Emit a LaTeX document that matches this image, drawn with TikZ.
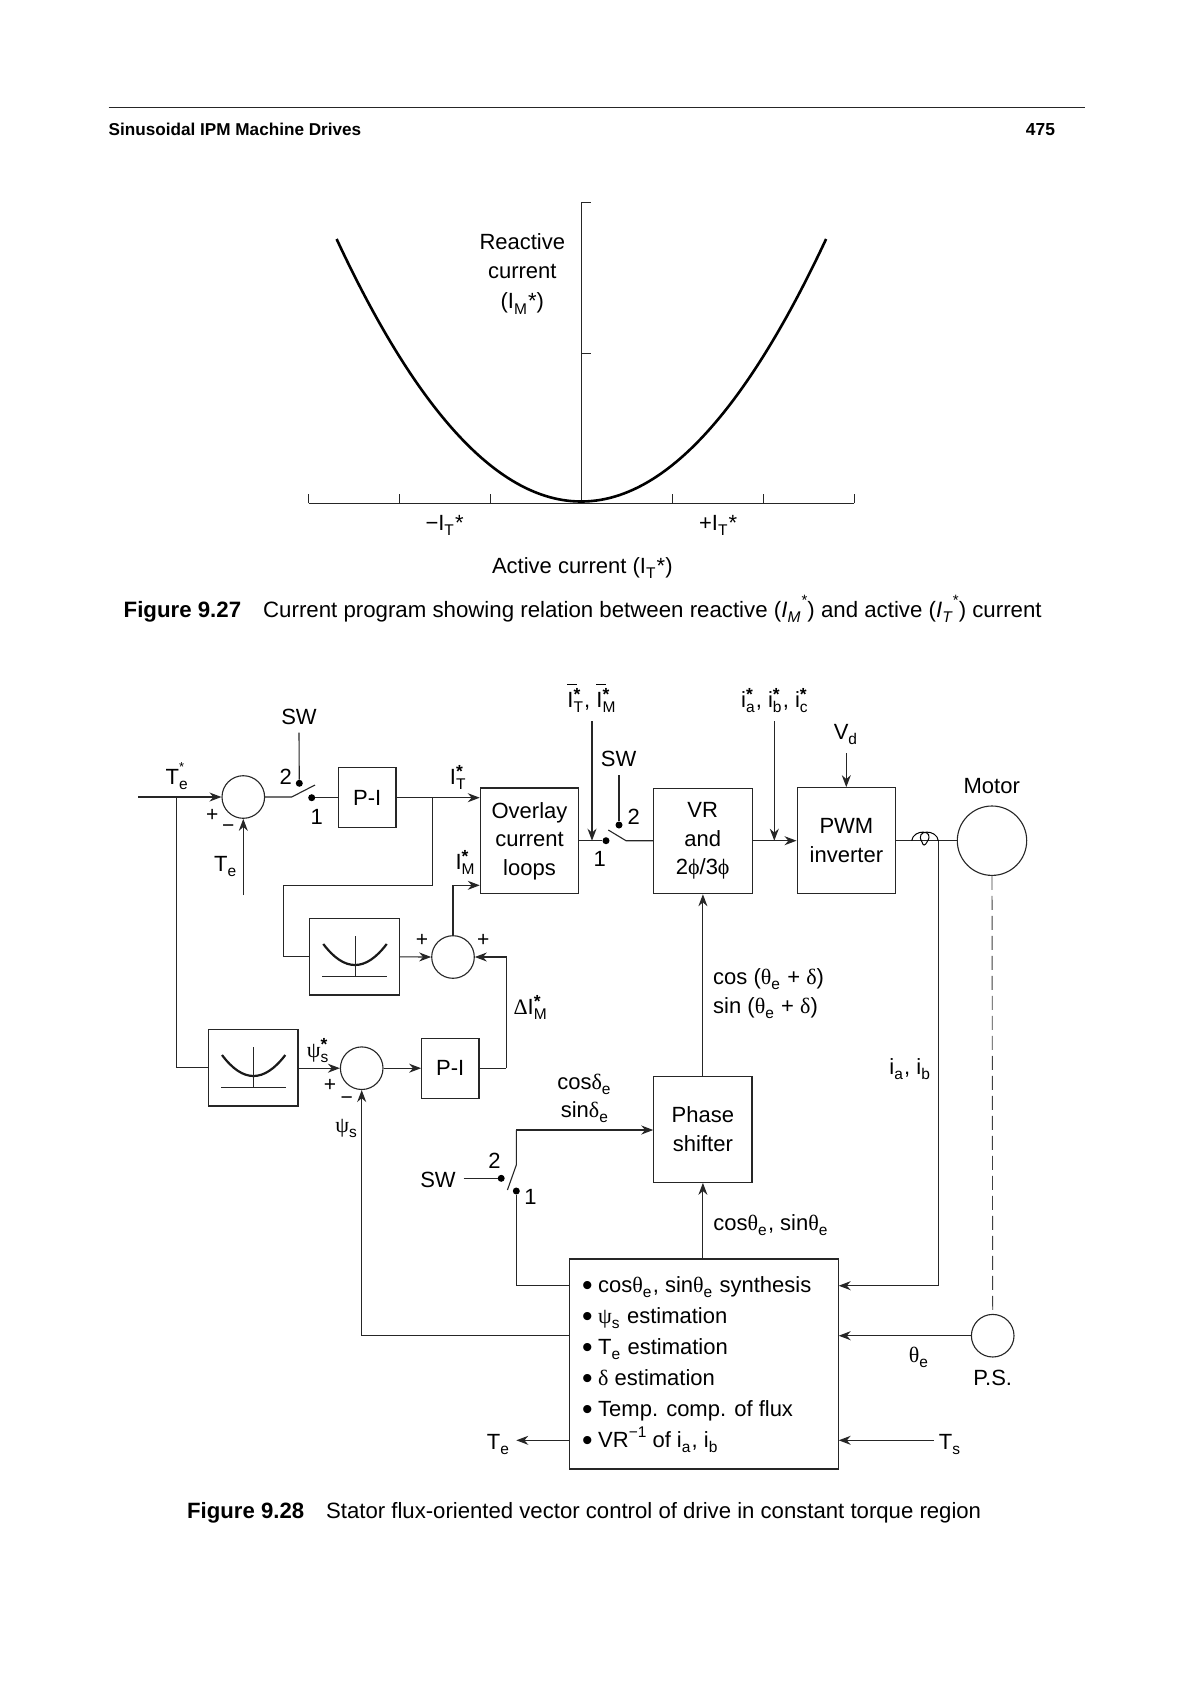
\documentclass[tikz,border=0pt]{standalone}
\usepackage{fontspec}
\setmainfont{Liberation Sans}
\newfontfamily\gkf{Liberation Serif}
\usetikzlibrary{arrows.meta,calc}
\newcommand{\gk}[1]{{\gkf #1}}
\newcommand{\dn}[1]{\raisebox{-.26em}{\fontsize{15.5}{15.5}\selectfont #1}\kern1.2pt\relax}
\newcommand{\upp}[1]{\raisebox{.42em}{\fontsize{15.5}{15.5}\selectfont #1}}
\newcommand{\sts}[1]{\rlap{\raisebox{.3em}{\fontsize{17.5}{17.5}\bfseries\selectfont *}}\dn{#1}}
\newcommand{\ovI}{\rlap{\rule[1.02em]{.42em}{.8pt}}I}
\newcommand{\bul}{\makebox[16pt][l]{\raisebox{-3pt}{\fontsize{30}{30}\selectfont •}}}
\tikzset{
  x=1pt,y=-1pt,
  ln/.style={line width=1.1pt,draw=black!85},
  arr/.style={ln,-{Stealth[length=12pt,width=9pt]}},
  blockbox/.style={draw=black!85,line width=1.1pt,inner sep=0pt,align=center,
     font=\fontsize{22}{28.5}\selectfont},
  sumc/.style={circle,draw=black!85,line width=1.1pt,inner sep=0pt,minimum size=42.6pt},
  contact/.style={circle,fill=black,inner sep=0pt,minimum size=7pt},
  lab/.style={inner sep=0pt,font=\fontsize{22}{26}\selectfont,text height=16pt,text depth=0pt},
  smalltxt/.style={inner sep=0pt,font=\fontsize{21}{24}\selectfont,text height=15pt,text depth=0pt},
  captxt/.style={inner sep=0pt,font=\fontsize{22.25}{26}\selectfont,text height=16pt,text depth=0pt,anchor=west},
  linetxt/.style={lab,anchor=west},
  curvethick/.style={line width=2.2pt,draw=black!90},
  thinline/.style={line width=1pt,draw=black!85},
}
\begin{document}
\begin{tikzpicture}
\useasboundingbox[fill=white] (0,0) rectangle (1190,1684);
% ---------- header
\coordinate (rl) at (108.5,107.4); \coordinate (rr) at (1084.7,107.4);
\draw[thinline] (rl) -- (rr);
\node[inner sep=0pt,anchor=west,font=\fontsize{17.15}{20}\bfseries\selectfont,text height=12.5pt,text depth=0pt] (hdl) at (108.5,129) {Sinusoidal IPM Machine Drives};
\node[inner sep=0pt,anchor=west,font=\fontsize{17.4}{20}\bfseries\selectfont,text height=12.5pt,text depth=0pt] (hdr) at (1025.7,129) {475};
% ---------- fig 9.27
\coordinate (o) at (581.2,503.3);
\coordinate (ytop) at (581.2,202.7);
\coordinate (xl) at (308.7,503.3); \coordinate (xr) at (854,503.3);
\draw[thinline] (o) -- (ytop) -- ++(10,0);
\draw[thinline] (581.2,353.3) -- ++(10,0);
\draw[thinline] (xl) -- (xr);
\foreach \tx in {308.7,399.4,490.5,672.3,763.3,854}
  \draw[thinline] (\tx,503.3) -- (\tx,494);
\draw[line width=2.6pt,draw=black] (336.6,239) .. controls (418.1,414) and (499.7,501.5) .. (581.2,501.5)
   .. controls (662.7,501.5) and (744.3,414) .. (826.1,239);
\node[lab] (rc1) at (522.3,241.7) {Reactive};
\node[lab] (rc2) at (522.3,270.5) {current};
\node[lab] (rc3) at (522.3,300.5) {(I\dn{M}*)};
\node[lab] (mt) at (444.6,522) {−I\dn{T}*};
\node[lab] (pt) at (718.2,522) {+I\dn{T}*};
\node[lab] (ac) at (582.3,565) {Active current (I\dn{T}*)};
\node[captxt] (cap27) at (123.5,609) {\textbf{Figure 9.27}\hspace{22pt}Current program showing relation between reactive (\textit{I\dn{M}}\raisebox{.5em}{\fontsize{15}{15}\selectfont *}) and active (\textit{I\dn{T}}\raisebox{.5em}{\fontsize{15}{15}\selectfont *}) current};
% ---------- blocks
\node[blockbox,minimum width=57.3pt,minimum height=60pt] (pi1) at (367.3,797.7) {P-I};
\node[blockbox,minimum width=98.4pt,minimum height=105.7pt] (ov) at (529.5,840.85) {Overlay\\current\\loops};
\node[blockbox,minimum width=98.7pt,minimum height=105.4pt] (vr) at (702.7,841) {VR\\and\\2\gk{ϕ}/3\gk{ϕ}};
\node[blockbox,minimum width=98.7pt,minimum height=106pt] (pwm) at (846.4,840.7) {PWM\\inverter};
\node[blockbox,minimum width=98.2pt,minimum height=106.3pt] (ph) at (702.9,1129.2) {Phase\\shifter};
\node[blockbox,minimum width=57.3pt,minimum height=59.7pt] (pi2) at (450.3,1068.2) {P-I};
\node[blockbox,minimum width=90pt,minimum height=76.3pt] (cv1) at (354.3,956.85) {};
\node[blockbox,minimum width=89.3pt,minimum height=76.7pt] (cv2) at (253.3,1067.65) {};
\node[blockbox,minimum width=268.3pt,minimum height=210pt] (est) at (704,1364) {};
\node[sumc] (c1) at (243.3,797) {};
\node[sumc] (c2) at (453,957) {};
\node[sumc] (c3) at (361.7,1068.2) {};
\node[sumc,minimum size=69.4pt] (mot) at (992,840.7) {};
\node[sumc] (ps) at (992.7,1335.7) {};
% parabola icons
\draw[curvethick] (323.3,944) .. controls (333.9,958) and (344.4,965) .. (355,965) .. controls (365.6,965) and (376.1,958) .. (386.7,944);
\draw[thinline] (355,936) -- (355,976); \draw[thinline] (322.3,976) -- (386.7,976);
\draw[curvethick] (222,1055) .. controls (232.5,1069) and (243,1076) .. (253.5,1076) .. controls (264,1076) and (274.7,1069) .. (285.3,1055);
\draw[thinline] (253.3,1047.3) -- (253.3,1087.3); \draw[thinline] (221,1087.3) -- (285.7,1087.3);
% ---------- switches
\node[contact] (s1t) at (299.3,783.3) {};
\node[contact] (s1b) at (311.7,797.7) {};
\coordinate (s1p) at (291.7,797); \coordinate (s1e) at (315,785);
\draw[ln] (c1.east) -- (s1p) -- (s1e);
\draw[ln] (s1b) -- (pi1.west |- s1b);
\coordinate (s1sw) at (299,732.7); \draw[ln] (s1sw) -- (s1t);
\node[contact] (s2a) at (606,840.7) {};
\node[contact] (s2b) at (619,825) {};
\coordinate (s2p) at (626,840.7); \coordinate (s2e) at (608.3,830);
\draw[ln] (ov.east |- s2a) -- (s2a);
\draw[ln] (s2e) -- (s2p) -- (vr.west |- s2p);
\coordinate (s2sw) at (619,775); \draw[ln] (s2sw) -- (s2b);
\coordinate (itop) at (592,721); \coordinate (jit) at (592,840.7);
\draw[arr] (itop) -- (jit);
\node[contact] (s3a) at (516.3,1191) {};
\node[contact] (s3b) at (501.2,1178.3) {};
\coordinate (s3e) at (507.4,1190); \coordinate (s3p) at (516.3,1165); \coordinate (s3t) at (516.3,1130);
\coordinate (swl) at (463.7,1178.3);
\draw[ln] (swl) -- (s3b);
\draw[ln] (s3e) -- (s3p) -- (s3t);
\draw[arr] (s3t) -- (ph.west |- s3t);
\coordinate (l1) at (516.3,1285.7);
\draw[ln] (est.west |- l1) -- (l1) -- (s3a);
% ---------- connectors
\coordinate (tein) at (138,797);
\coordinate (j1) at (176.7,797);
\draw[arr] (tein) -- (c1.west);
\draw[ln] (j1) |- (cv2.west);
\coordinate (tef) at (243.3,895);
\draw[arr] (tef) -- (c1.south);
\coordinate (j2) at (432.3,797.7); \coordinate (k1) at (432.3,885.3); \coordinate (k2) at (283.3,885.3);
\draw[arr] (pi1.east) -- (pi1.east -| ov.west);
\draw[ln] (j2) -- (k1) -- (k2) |- (cv1.west);
\draw[arr] (cv1.east) -- (c2.west);
\coordinate (k3) at (453,885.3);
\draw[arr] (c2.north) -- (k3) -- (ov.west |- k3);
\coordinate (k4) at (506.3,1068.2); \coordinate (k5) at (506.3,957);
\draw[ln] (pi2.east) -- (k4);
\draw[arr] (k4) -- (k5) -- (c2.east);
\draw[arr] (cv2.east |- c3) -- (c3.west);
\draw[arr] (c3.east) -- (pi2.west);
\coordinate (k6) at (361.7,1335.7);
\draw[arr] (est.west |- k6) -- (k6) -- (c3.south);
\coordinate (iabc) at (774.3,721); \coordinate (jabc) at (774.3,840.7);
\draw[arr] (vr.east |- pwm.west) -- (pwm.west);
\draw[arr] (iabc) -- (jabc);
\coordinate (vd) at (846.3,753.3);
\draw[arr] (vd) -- (vd |- pwm.north);
\draw[ln] (pwm.east) -- (mot.west);
\draw[arr] (ph.north |- est.north) -- (ph.south);
\draw[arr] (ph.north) -- (ph.north |- vr.south);
\coordinate (ia) at (938.7,840.7); \coordinate (ib) at (938.7,1285.7);
\draw[arr] (ia) -- (ib) -- (est.east |- ib);
\draw[arr] (ps.west) -- (est.east |- ps);
\coordinate (ts) at (933.8,1440.3);
\draw[arr] (ts) -- (est.east |- ts);
\coordinate (teo) at (516.3,1440.3);
\draw[arr] (est.west |- teo) -- (teo);
\draw[line width=.9pt,draw=black!75,dash pattern=on 14pt off 6pt] (mot.south) -- (ps.north);
% current sensor
\draw[line width=1pt,draw=black] (911.7,840.7) .. controls (913,829) and (936,829) .. (927,842) .. controls (925,846) and (923,846) .. (922,842) .. controls (914,829) and (937,829) .. (938.3,840.7);
% ---------- labels
\node[lab] (lte) at (177.3,776) {T\rlap{\raisebox{.55em}{\fontsize{13}{13}\selectfont *}}\dn{e}};
\node[smalltxt] (pl1) at (212.3,814) {+};
\node[smalltxt] (mn1) at (228.3,825) {−};
\node[lab] (lte2) at (225.7,863) {T\dn{e}};
\node[lab] (lsw1) at (299,716.7) {SW};
\node[lab] (n2a) at (285.7,776) {2};
\node[lab] (n1a) at (316.7,816) {1};
\node[lab] (lit) at (458.3,776) {I\sts{T}};
\node[lab] (lim) at (465.7,861) {I\sts{M}};
\node[smalltxt] (pl2) at (422,939) {+};
\node[smalltxt] (pl3) at (483.3,939) {+};
\node[lab] (ldi) at (530.7,1006) {\gk{Δ}I\sts{M}};
\node[lab] (lps) at (318.3,1049) {\gk{ψ}\sts{s}};
\node[smalltxt] (pl4) at (330,1084) {+};
\node[smalltxt] (mn3) at (346.7,1097) {−};
\node[lab] (lps2) at (346.7,1124) {\gk{ψ}\dn{s}};
\node[lab] (lbar) at (592,699) {\ovI\sts{T}, \ovI\sts{M}};
\node[lab] (labc) at (775,699) {i\sts{a}, i\sts{b}, i\sts{c}};
\node[lab] (lvd) at (846,731) {V\dn{d}};
\node[lab] (lsw2) at (618.7,758.3) {SW};
\node[lab] (n2b) at (633.7,816.7) {2};
\node[lab] (n1b) at (599.7,858.3) {1};
\node[lab] (lmot) at (991.7,785) {Motor};
\node[linetxt] (lcos) at (713,976) {cos (\gk{θ}\dn{e} + \gk{δ})};
\node[linetxt] (lsin) at (713,1005) {sin (\gk{θ}\dn{e} + \gk{δ})};
\node[lab] (lia) at (910.3,1066) {i\dn{a}, i\dn{b}};
\node[lab] (lcd) at (584.6,1081) {cos\gk{δ}\dn{e}};
\node[lab] (lsd) at (585,1109) {sin\gk{δ}\dn{e}};
\node[lab] (lsw3) at (438,1179.3) {SW};
\node[lab] (n2c) at (494.5,1160) {2};
\node[lab] (n1c) at (530.6,1196.7) {1};
\node[linetxt] (lct) at (713.2,1222) {cos\gk{θ}\dn{e}, sin\gk{θ}\dn{e}};
\node[linetxt] (e1) at (582,1284) {\bul cos\gk{θ}\dn{e}, sin\gk{θ}\dn{e} synthesis};
\node[linetxt] (e2) at (582,1315) {\bul \gk{ψ}\dn{s} estimation};
\node[linetxt] (e3) at (582,1346) {\bul T\dn{e} estimation};
\node[linetxt] (e4) at (582,1377) {\bul \gk{δ} estimation};
\node[linetxt] (e5) at (582,1408) {\bul Temp. comp. of flux};
\node[linetxt] (e6) at (582,1439) {\bul VR\upp{−1} of i\dn{a}, i\dn{b}};
\node[lab] (lps3) at (992.7,1377) {P.S.};
\node[lab] (lth) at (919,1354) {\gk{θ}\dn{e}};
\node[lab] (lts) at (950,1441) {T\dn{s}};
\node[lab] (lte3) at (498.5,1441) {T\dn{e}};
\node[captxt,font=\fontsize{22.15}{26}\selectfont] (cap28) at (187,1510) {\textbf{Figure 9.28}\hspace{22pt}Stator flux-oriented vector control of drive in constant torque region};
\end{tikzpicture}
\end{document}
